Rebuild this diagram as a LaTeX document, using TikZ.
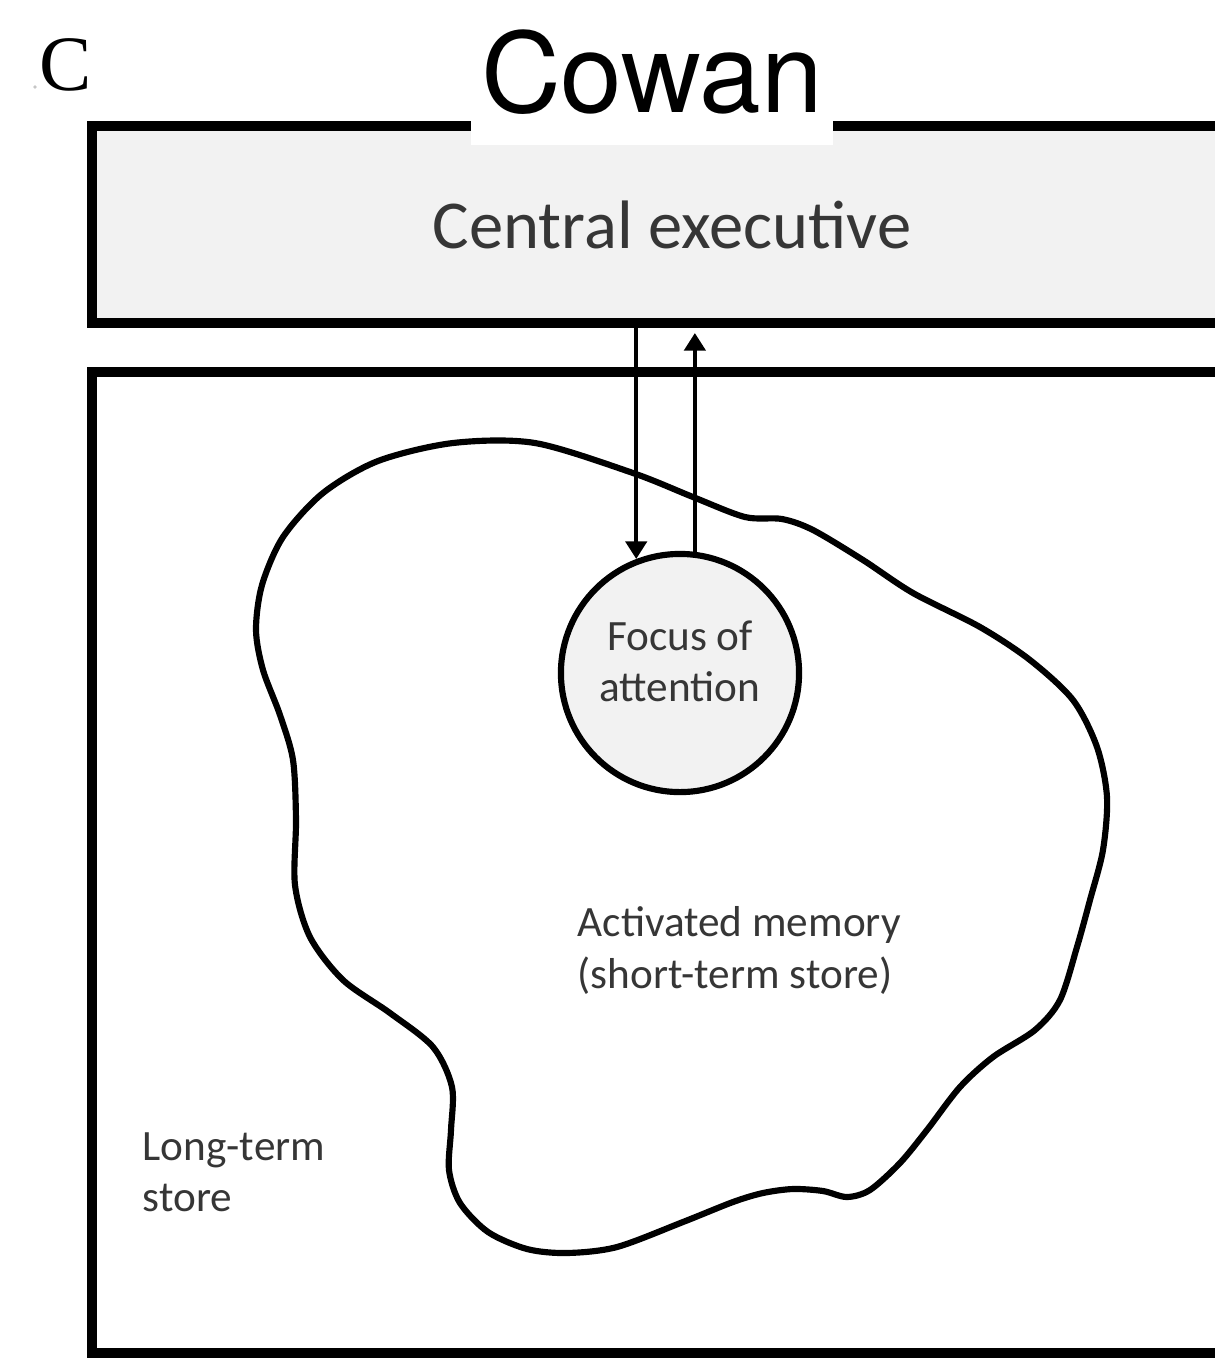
\documentclass[tikz,border=0pt]{standalone}
\usepackage{fontspec}
\setmainfont{Carlito}
\newfontfamily\titlefont{TeX Gyre Heros}
\newfontfamily\panelfont{Liberation Serif}
\usetikzlibrary{arrows.meta}

\definecolor{boxgray}{HTML}{F2F2F2}
\definecolor{inkgray}{HTML}{363636}

\begin{document}
\begin{tikzpicture}[x=0.01cm, y=-0.01cm,
  frame/.style={rectangle, draw=black, line width=2.85pt, inner sep=0pt,
    minimum width=11.6cm},
  labeltext/.style={text=inkgray, inner sep=0pt,
    font=\fontsize{12.3}{14.6}\selectfont},
  flow/.style={draw=black, line width=1.15pt,
    -{Triangle[length=5pt, width=6pt]}},
  blobline/.style={draw=black, line width=1.75pt, line join=round},
]
\useasboundingbox (0,0) rectangle (1215,1362);
\clip (0,0) rectangle (1215,1362);

% panel letter
\fill[gray!45] (35,87) circle (1.8);
\node[anchor=base, inner sep=0pt, font=\panelfont\fontsize{22.3}{26}\selectfont]
  (panel) at (66,90) {C};

% long-term store frame
\node[frame, fill=white, minimum height=9.81cm] (lts) at (672,862.5) {};
\node[labeltext, anchor=north west, align=left] (ltstext) at (142,1132)
  {Long-term\\store};

% central executive frame
\node[frame, fill=boxgray, minimum height=1.97cm, text=inkgray,
  font=\fontsize{19.5}{23}\selectfont] (ce) at (672,224.5) {Central executive};

% title with its white backing
\node[fill=white, inner sep=0pt, minimum width=3.62cm, minimum height=1.45cm]
  (titlebg) at (652,72.5) {};
\node[anchor=base, inner sep=0pt, font=\titlefont\fontsize{31.5}{36}\selectfont]
  (title) at (652,112) {Cowan};

% activated memory region
\draw[blobline] plot[smooth cycle, tension=0.5] coordinates {
  (453,443) (535,443) (633,473) (693,497) (745,517) (782,519)
  (813,530) (863,560) (913,593) (980,627) (1030,660) (1073,700) (1097,747)
  (1107,797) (1103,850) (1090,900) (1077,947) (1060,1000) (1035,1030)
  (993,1057) (960,1087) (927,1130) (900,1163) (870,1190) (847,1197)
  (823,1191) (793,1189) (763,1193) (733,1202) (683,1222) (617,1247)
  (567,1253) (527,1249) (488,1232) (460,1203) (449,1170) (451,1130)
  (452,1087) (433,1047) (390,1013) (343,980) (310,937) (295,885)
  (296,820) (293,760) (280,715) (263,670) (256,630) (262,585) (283,537)
  (323,493) (378,461)};
\node[labeltext, anchor=north west, align=left] (amtext) at (577,906)
  {Activated memory\\(short-term store)};

% focus of attention
\node[circle, draw=black, fill=boxgray, line width=1.75pt, inner sep=0pt,
  minimum size=2.38cm] (foa) at (680,673) {};
\node[labeltext, align=center] (foatext) at (680,661) {Focus of\\attention};

% exchange between executive and focus
\coordinate (upend) at (0,333);
\draw[flow] (ce.south -| foa.111) -- (foa.111);
\draw[flow] (foa.83) -- (foa.83 |- upend);
\end{tikzpicture}
\end{document}
